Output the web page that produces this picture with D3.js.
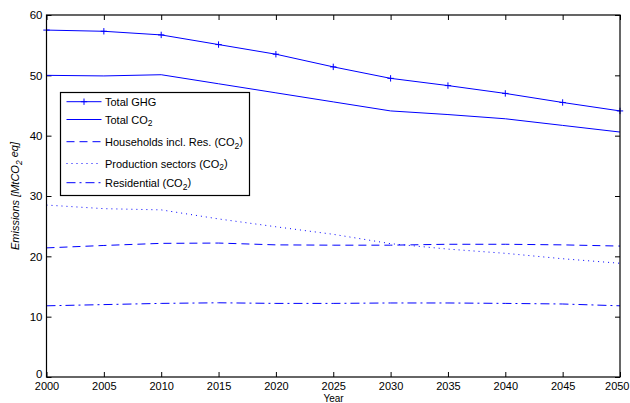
<!DOCTYPE html>
<html>
<head>
<meta charset="utf-8">
<script src="https://cdn.jsdelivr.net/npm/d3@7"></script>
<style>
  html, body { margin: 0; padding: 0; background: #fff; }
  svg { display: block; }
  text { font-family: Arial, "Liberation Sans", Helvetica, sans-serif; fill: #000; }
</style>
</head>
<body>
<svg id="chart" width="630" height="403"></svg>
<script>
// ---- data ----
const years = [2000, 2005, 2010, 2015, 2020, 2025, 2030, 2035, 2040, 2045, 2050];
const totalGHG = [57.5, 57.3, 56.7, 55.1, 53.5, 51.4, 49.5, 48.3, 47.0, 45.5, 44.1];
const totalCO2 = [50.0, 49.9, 50.1, 48.6, 47.1, 45.6, 44.1, 43.5, 42.8, 41.7, 40.6];
const households = [21.4, 21.8, 22.15, 22.2, 21.9, 21.85, 21.85, 22.0, 22.0, 21.9, 21.7];
const production = [28.5, 27.9, 27.7, 26.2, 24.9, 23.65, 22.1, 21.2, 20.5, 19.6, 18.85];
const residential = [11.8, 12.0, 12.2, 12.3, 12.2, 12.2, 12.27, 12.27, 12.2, 12.1, 11.8];
const yTicks = [0, 10, 20, 30, 40, 50, 60];
const seriesNames = ["Total GHG", "Total CO2", "Households incl. Res. (CO2)", "Production sectors (CO2)", "Residential (CO2)"];

// ---- layout ----
const svg = d3.select("#chart");
const x = d3.scaleLinear().domain([2000, 2050]).range([46.5, 620]);
const y = d3.scaleLinear().domain([0, 60]).range([377, 15]);

const series = [
  { name: seriesNames[0], values: totalGHG, dash: null, marker: true },
  { name: seriesNames[1], values: totalCO2, dash: null, marker: false },
  { name: seriesNames[2], values: households, dash: "8,5", marker: false },
  { name: seriesNames[3], values: production, dash: "1,4", marker: false },
  { name: seriesNames[4], values: residential, dash: "9,4,2,4", marker: false }
];

const blue = "#0000ff";

// axes
const fontSize = "11px";
const gB = svg.append("g").attr("transform", `translate(0,${y(0)})`)
  .call(d3.axisBottom(x).tickValues(years).tickFormat(d3.format("d")).tickSizeInner(-5).tickSizeOuter(0).tickPadding(5.5));
const gL = svg.append("g").attr("transform", `translate(${x(2000)},0)`)
  .call(d3.axisLeft(y).tickValues(yTicks).tickSizeInner(-5).tickSizeOuter(0).tickPadding(4));
const gT = svg.append("g").attr("transform", `translate(0,${y(60)})`)
  .call(d3.axisTop(x).tickValues(years).tickFormat("").tickSizeInner(-5).tickSizeOuter(0));
const gR = svg.append("g").attr("transform", `translate(${x(2050)},0)`)
  .call(d3.axisRight(y).tickValues(yTicks).tickFormat("").tickSizeInner(-5).tickSizeOuter(0));
[gB, gL, gT, gR].forEach(g => {
  g.select(".domain").remove();
  g.selectAll("line").attr("stroke", "#000").attr("stroke-width", 1);
  g.selectAll("text").style("font-size", fontSize).attr("fill", "#000")
    .style("font-family", "Arial, 'Liberation Sans', sans-serif");
});
gL.selectAll("text").style("font-size", "11.5px");
// lift the "0" label a little so it clears the first year label
gL.selectAll(".tick text").filter(d => d === 0).attr("y", -3.3);
// keep the last year label inside the page
gB.selectAll(".tick text").filter(d => d === 2050)
  .attr("text-anchor", "end").attr("x", 629 - x(2050));

// lines
const line = d3.line().x((d, i) => x(years[i])).y(d => y(d));
const plot = svg.append("g");
series.forEach(s => {
  plot.append("path").datum(s.values)
    .attr("d", line)
    .attr("fill", "none")
    .attr("stroke", blue)
    .attr("stroke-width", 1)
    .attr("stroke-dasharray", s.dash);
  if (s.marker) {
    plot.selectAll(null).data(s.values).join("path")
      .attr("d", (d, i) => {
        const cx = x(years[i]), cy = y(d), r = 3.2;
        return `M${cx - r},${cy}H${cx + r}M${cx},${cy - r}V${cy + r}`;
      })
      .attr("stroke", blue).attr("stroke-width", 1).attr("fill", "none");
  }
});

// box
svg.append("rect")
  .attr("x", x(2000)).attr("y", y(60))
  .attr("width", x(2050) - x(2000)).attr("height", y(0) - y(60))
  .attr("fill", "none").attr("stroke", "#000").attr("stroke-width", 1.2);

// legend
const leg = svg.append("g");
leg.append("rect").attr("x", 60.5).attr("y", 92.5).attr("width", 189).attr("height", 103)
  .attr("fill", "#fff").attr("stroke", "#000").attr("stroke-width", 1.2);
const legY = [101.7, 119.5, 141.7, 163.5, 182.7];
function labelWithSub(sel, label) {
  const parts = label.split("CO2");
  parts.forEach((p, i) => {
    if (p) sel.append("tspan").text(p).attr("dy", i > 0 ? "-0.35em" : null);
    if (i < parts.length - 1) {
      sel.append("tspan").text("CO").attr("dy", i > 0 && !p ? "-0.35em" : null);
      sel.append("tspan").text("2").attr("dy", "0.35em").style("font-size", "8.5px");
    }
  });
}
series.forEach((s, i) => {
  const ly = legY[i];
  leg.append("line").attr("x1", 66.5).attr("x2", 101.5).attr("y1", ly).attr("y2", ly)
    .attr("stroke", blue).attr("stroke-width", 1).attr("stroke-dasharray", s.dash);
  if (s.marker) {
    leg.append("path").attr("d", `M${84 - 3.2},${ly}H${84 + 3.2}M84,${ly - 3.2}V${ly + 3.2}`)
      .attr("stroke", blue).attr("stroke-width", 1);
  }
  const t = leg.append("text").attr("x", 105).attr("y", ly + 4).style("font-size", "11px");
  labelWithSub(t, s.name);
});

// axis labels
const yl = svg.append("text")
  .attr("transform", "translate(19,196) rotate(-90)")
  .attr("text-anchor", "middle")
  .style("font-size", "11px").style("font-style", "italic");
yl.append("tspan").text("Emissions [MtCO");
yl.append("tspan").text("2").attr("dy", "0.35em").style("font-size", "8.5px");
yl.append("tspan").text(" eq]").attr("dy", "-0.35em");

svg.append("text").attr("x", 333.5).attr("y", 402).attr("text-anchor", "middle")
  .style("font-size", "10px").text("Year");
</script>
</body>
</html>
